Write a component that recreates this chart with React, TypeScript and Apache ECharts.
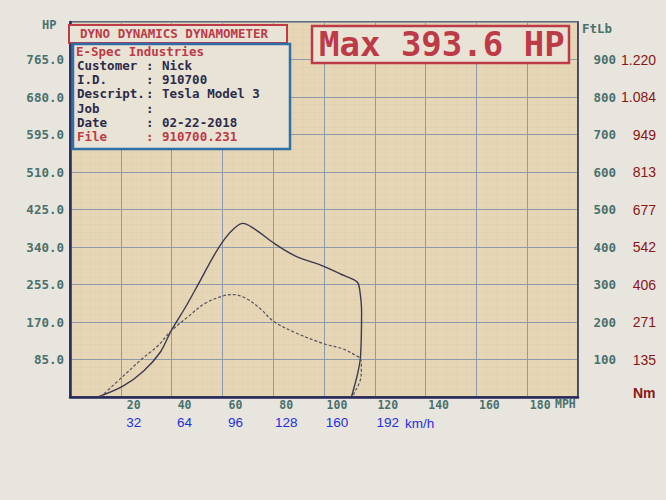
import { useRef, useEffect } from 'react'
import * as echarts from 'echarts'

// power curve (mph, HP)
const hpMph = [11, 21, 29, 35.6, 39.8, 45.5, 51, 56.6, 61, 65, 68, 72.6, 80.7, 88.6, 100.4, 108, 113, 114, 114.8, 114.4, 113.4, 112, 110.8]
const hpValues = [0, 25, 59, 102, 150, 204, 261, 320, 359, 384, 393.6, 381, 347, 320, 295, 275, 261, 245, 193, 93, 57, 25, 0]

// torque curve (mph, FtLb)
const tqMph = [12, 21, 28.4, 34.5, 39.8, 47, 53, 60.5, 64.4, 69.5, 75, 79.9, 87.9, 99.9, 107.6, 112.7, 114.4, 114.7, 114.6, 113.4, 112, 111.5]
const tqValues = [0, 56, 102, 136, 176, 217, 249, 270, 273, 262, 235, 203, 174, 142, 128, 110, 102, 83, 56, 29, 13, 0]

const mphLabels = ['20', '40', '60', '80', '100', '120', '140', '160', '180']
const kmhLabels = ['32', '64', '96', '128', '160', '192']
const hpLabels = ['85.0', '170.0', '255.0', '340.0', '425.0', '510.0', '595.0', '680.0', '765.0']
const ftlbLabels = ['100', '200', '300', '400', '500', '600', '700', '800', '900']
const nmLabels = ['135', '271', '406', '542', '677', '813', '949', '1.084', '1.220']

const infoRows = [
  ['Customer', 'Nick'],
  ['I.D.', '910700'],
  ['Descript.', 'Tesla Model 3'],
  ['Job', ''],
  ['Date', '02-22-2018'],
  ['File', '910700.231'],
]

const MONO = '"DejaVu Sans Mono", monospace'
const SANS = '"Liberation Sans", Arial, sans-serif'
const RED = '#bd3a47'
const NAVY = '#2c2b4a'
const TEAL = '#4a716d'
const PAPER = '#e9e3d5'

const monoText = (text: string, fill: string, size = 12.5) => ({
  text, fill, fontFamily: MONO, fontWeight: 'bold', fontSize: size,
})

export default function App() {
  const chartRef = useRef<HTMLDivElement>(null)

  useEffect(() => {
    if (!chartRef.current) return
    const chart = echarts.init(chartRef.current, undefined, { renderer: 'svg' })

    const infoText: any[] = []
    infoRows.forEach((row, i) => {
      const y = 66 + i * 14.2
      const color = row[0] === 'File' ? RED : NAVY
      infoText.push(
        { type: 'text', z: 102, left: 77, top: y - 7, style: monoText(row[0], color) },
        { type: 'text', z: 102, left: 146, top: y - 7, style: monoText(':', color) },
        { type: 'text', z: 102, left: 162, top: y - 7, style: monoText(row[1], color) },
      )
    })

    chart.setOption({
      animation: false,
      backgroundColor: '#e8e5de',
      grid: {
        left: 70, right: 88, top: 22, bottom: 103,
        show: true, backgroundColor: '#e6d6b5', borderColor: '#3a4052', borderWidth: 1.5,
        outerBoundsMode: 'none',
      },
      xAxis: {
        type: 'value', min: 0, max: 200, interval: 20,
        axisLine: { show: true, onZero: false, lineStyle: { color: '#27295a', width: 2.5 } },
        axisTick: { show: false },
        minorTick: { show: false, splitNumber: 5 },
        minorSplitLine: { show: true, lineStyle: { color: 'rgba(130,140,165,0.08)', width: 0.6 } },
        splitLine: { show: true, lineStyle: { color: '#8e99a9', width: 1 } },
        axisLabel: {
          margin: 0,
          padding: [0, 0, 0, 26],
          formatter: (v: number) => {
            const i = Math.round(v / 20) - 1
            if (i < 0 || i >= mphLabels.length) return ''
            const k = kmhLabels[i]
            return k ? `{m|${mphLabels[i]}}\n{k|${k}}` : `{m|${mphLabels[i]}}`
          },
          rich: {
            m: { fontFamily: MONO, fontWeight: 'bold', fontSize: 11.5, color: TEAL, lineHeight: 15 },
            k: { fontFamily: SANS, fontSize: 13.5, color: '#1f2fe0', lineHeight: 21 },
          },
        },
      },
      yAxis: [
        {
          type: 'value', min: 0, max: 850, interval: 85,
          axisLine: { show: true, lineStyle: { color: '#27295a', width: 2.5 } },
          axisTick: { show: false },
          minorTick: { show: false, splitNumber: 5 },
          minorSplitLine: { show: true, lineStyle: { color: 'rgba(130,140,165,0.08)', width: 0.6 } },
          splitLine: { show: true, lineStyle: { color: '#8e99a9', width: 1 } },
          axisLabel: {
            margin: 6,
            color: TEAL, fontFamily: MONO, fontWeight: 'bold', fontSize: 12.5,
            formatter: (v: number) => {
              const i = Math.round(v / 85) - 1
              return i >= 0 && i < hpLabels.length ? hpLabels[i] : ''
            },
          },
        },
        {
          type: 'value', min: 0, max: 1000, interval: 100,
          position: 'right',
          axisLine: { show: true, lineStyle: { color: '#3a4052', width: 1.5 } },
          axisTick: { show: false },
          splitLine: { show: false },
          axisLabel: {
            margin: 15,
            formatter: (v: number) => {
              const i = Math.round(v / 100) - 1
              if (i < 0 || i >= ftlbLabels.length) return ''
              return `{f|${ftlbLabels[i]}}{n|${nmLabels[i]}}`
            },
            rich: {
              f: { fontFamily: MONO, fontWeight: 'bold', fontSize: 12.5, color: TEAL, width: 23, align: 'right' },
              n: { fontFamily: SANS, fontSize: 14, color: '#8a1616', width: 40, align: 'right' },
            },
          },
        },
      ],
      series: [
        {
          name: 'HP', type: 'line', smooth: 0.35, showSymbol: false,
          data: hpMph.map((m, i) => [m, hpValues[i]]),
          lineStyle: { color: '#3c384f', width: 1.4 },
        },
        {
          name: 'FtLb', type: 'line', smooth: 0.35, showSymbol: false, yAxisIndex: 1,
          data: tqMph.map((m, i) => [m, tqValues[i]]),
          lineStyle: { color: '#55505e', width: 1.2, type: [3, 2] },
        },
      ],
      graphic: [
        { type: 'text', z: 102, left: 42, top: 19, style: monoText('HP', TEAL, 12) },
        { type: 'text', z: 102, left: 582, top: 22, style: monoText('FtLb', TEAL) },
        { type: 'text', z: 102, left: 633, top: 386, style: { text: 'Nm', fill: '#8a1616', fontFamily: SANS, fontWeight: 'bold', fontSize: 14 } },
        { type: 'text', z: 102, left: 555, top: 398, style: monoText('MPH', TEAL, 11.5) },
        { type: 'text', z: 102, left: 405, top: 416, style: { text: 'km/h', fill: '#1f2fe0', fontFamily: SANS, fontSize: 13.5 } },
        // title box
        { type: 'rect', z: 101, shape: { x: 69, y: 25, width: 218, height: 18 }, style: { fill: PAPER, stroke: RED, lineWidth: 2 } },
        { type: 'text', z: 102, left: 80, top: 27, style: monoText('DYNO DYNAMICS DYNAMOMETER', RED) },
        // info box
        { type: 'rect', z: 101, shape: { x: 73, y: 44, width: 217, height: 105 }, style: { fill: PAPER, stroke: '#2f6ea6', lineWidth: 2.5 } },
        { type: 'text', z: 102, left: 76, top: 45, style: monoText('E-Spec Industries', RED) },
        ...infoText,
        // max box
        { type: 'rect', z: 101, shape: { x: 312, y: 26, width: 257, height: 37 }, style: { fill: PAPER, stroke: RED, lineWidth: 2.5 } },
        { type: 'text', z: 102, left: 319, top: 27, style: monoText('Max 393.6 HP', RED, 34) },
      ],
    })

    return () => chart.dispose()
  }, [])

  return (
    <div
      ref={chartRef}
      style={{ position: 'fixed', left: 0, top: 0, width: 666, height: 500 }}
    />
  )
}
